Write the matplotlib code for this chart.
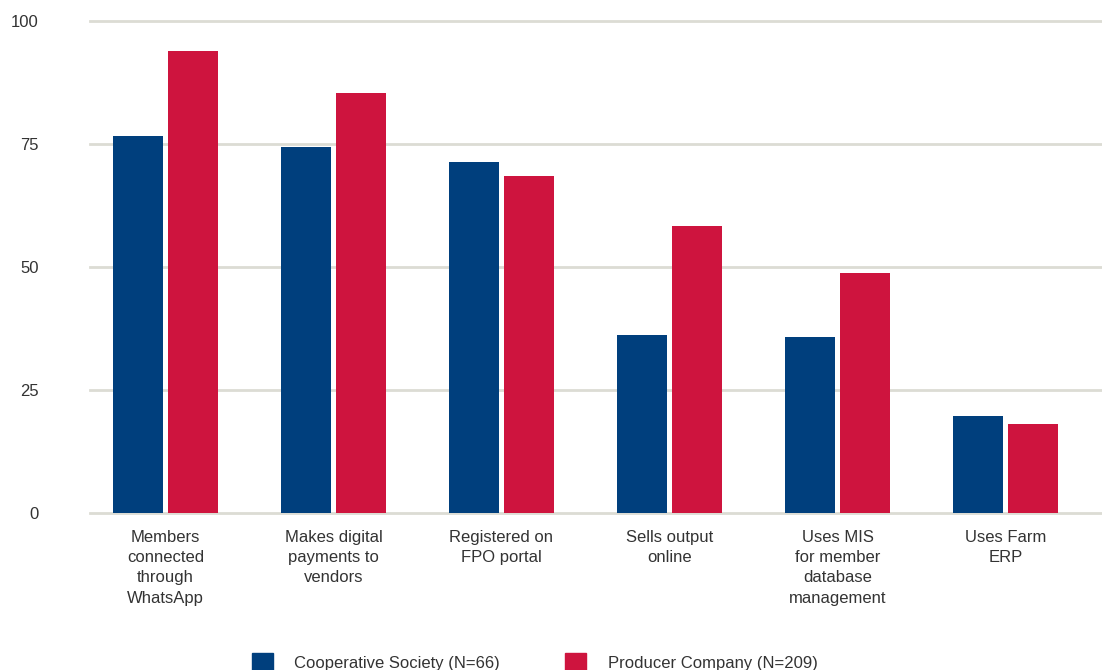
import numpy as np
import matplotlib.pyplot as plt
from matplotlib.patches import Patch

plt.rcParams['font.family'] = ['Liberation Sans', 'DejaVu Sans']

kategorie = ["Members\nconnected\nthrough\nWhatsApp",
             "Makes digital\npayments to\nvendors",
             "Registered on\nFPO portal",
             "Sells output\nonline",
             "Uses MIS\nfor member\ndatabase\nmanagement",
             "Uses Farm\nERP"]
druzstvo = [76.6, 74.4, 71.3, 36.2, 35.8, 19.7]    # Cooperative Society
spolecnost = [93.9, 85.4, 68.5, 58.3, 48.8, 18.1]  # Producer Company
yticks = [0, 25, 50, 75, 100]

modra = "#003F7D"
cervena = "#CE143E"
seda = "#333333"

fig = plt.figure(figsize=(11.02, 6.70), dpi=100)
ax = fig.add_axes([90/1102, 1-513/670, 1-90/1102, (513-21)/670])

x = np.arange(len(kategorie))
w = 0.298
ax.bar(x - w/2 - 0.015, druzstvo, w, color=modra, zorder=3)
ax.bar(x + w/2 + 0.015, spolecnost, w, color=cervena, zorder=3)

for t in yticks:
    ax.axhline(t, color="#DCDCD4", lw=2, zorder=1, clip_on=False)

ax.set_xlim(-0.449, 5.574)
ax.set_ylim(0, 100)
ax.set_yticks(yticks)
ax.set_yticklabels([str(t) for t in yticks], fontsize=12, color=seda)
ax.set_xticks(x)
ax.set_xticklabels(kategorie, fontsize=12, color=seda, linespacing=1.45, va="top")
ax.tick_params(axis="y", length=0, pad=37)
ax.tick_params(axis="x", length=0, pad=12)
for s in ax.spines.values():
    s.set_visible(False)

handles = [Patch(color=modra, label="Cooperative Society (N=66)"),
           Patch(color=cervena, label="Producer Company (N=209)")]
leg = fig.legend(handles=handles, loc="lower left", bbox_to_anchor=(245/1102, -0.012),
                 ncol=2, frameon=False, fontsize=12, handlelength=1.26, handleheight=1.3,
                 handletextpad=1.3, columnspacing=3.9, borderaxespad=0)
for t in leg.get_texts():
    t.set_color(seda)

fig.savefig("out.png", dpi=100)
